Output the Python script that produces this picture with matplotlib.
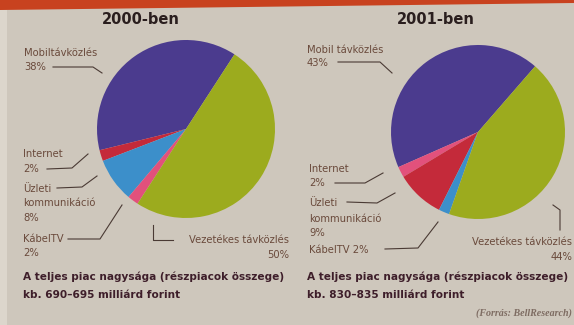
import matplotlib.pyplot as plt
from matplotlib.patches import Polygon, Rectangle

W, H = 574, 325

labels = ['Mobiltávközlés', 'Internet', 'Üzleti kommunikáció', 'KábelTV', 'Vezetékes távközlés']
share_2000 = [38, 2, 8, 2, 50]
share_2001 = [43, 2, 9, 2, 44]
colors_2000 = ['#4b3b8e', '#c42a3a', '#3c8fca', '#e2517c', '#9cab1e']
colors_2001 = ['#4b3b8e', '#e2517c', '#c42a3a', '#3c8fca', '#9cab1e']
titles = ['2000-ben', '2001-ben']
totals = ['kb. 690–695 milliárd forint', 'kb. 830–835 milliárd forint']

bg = '#cec7bc'
txt = '#6a4a3c'
dark = '#3e1e2a'
fam = ['Liberation Sans Narrow', 'DejaVu Sans']

fig = plt.figure(figsize=(W / 100, H / 100), dpi=100)
fig.patch.set_facecolor(bg)


def fx(x):
    return x / W


def fy(y):
    return 1 - y / H


def text(x, y, s, **kw):
    kw.setdefault('color', txt)
    kw.setdefault('fontsize', 7.2)
    kw.setdefault('family', fam)
    fig.text(fx(x), fy(y), s, va='center', **kw)


def line(pts, color='#4a3a34'):
    fig.add_artist(plt.Line2D([fx(p[0]) for p in pts], [fy(p[1]) for p in pts],
                              color=color, lw=0.8, transform=fig.transFigure))


# top red band and light left strip
fig.add_artist(Polygon([[0, 1], [1, 1], [1, fy(3)], [0, fy(10)]], closed=True,
                       transform=fig.transFigure, color='#c8421f', lw=0))
fig.add_artist(Rectangle((0, 0), fx(7), fy(10), transform=fig.transFigure,
                         color='#dcd6cc', lw=0))


def pie(cx, cy, r, values, colors, start):
    ax = fig.add_axes([fx(cx - r), fy(cy + r), 2 * r / W, 2 * r / H])
    ax.pie(values, colors=colors, startangle=start, counterclock=True,
           wedgeprops={'linewidth': 0})
    ax.set_xlim(-1, 1)
    ax.set_ylim(-1, 1)
    ax.axis('off')


pie(186, 129, 89, share_2000, colors_2000, 57)
pie(478, 132, 87, share_2001, colors_2001, 49)

# titles
text(141, 20, titles[0], color='#2a1e1e', fontsize=10.5, fontweight='bold', ha='center')
text(436, 20, titles[1], color='#2a1e1e', fontsize=10.5, fontweight='bold', ha='center')

# 2000 labels
text(24, 53, 'Mobiltávközlés')
text(24, 67, f'{share_2000[0]}%')
line([(53, 67), (93, 67), (102, 73)])
text(23, 154, 'Internet')
text(23, 169, f'{share_2000[1]}%')
line([(47, 169), (72, 168), (88, 154)])
text(23, 189, 'Üzleti')
text(23, 203, 'kommunikáció')
text(23, 218, f'{share_2000[2]}%')
line([(57, 188), (82, 187), (97, 176)])
text(23, 239, labels[3])
text(23, 253, f'{share_2000[3]}%')
line([(68, 239), (100, 239), (122, 205)])
text(289, 240, labels[4], ha='right')
text(289, 255, f'{share_2000[4]}%', ha='right')
line([(153, 225), (153, 240), (173, 240)])

# 2001 labels
text(307, 50, 'Mobil távközlés')
text(307, 63, f'{share_2001[0]}%')
line([(338, 62), (380, 62), (392, 73)])
text(309, 169, 'Internet')
text(309, 183, f'{share_2001[1]}%')
line([(335, 183), (365, 183), (383, 173)])
text(309, 203, 'Üzleti')
text(309, 219, 'kommunikáció')
text(309, 233, f'{share_2001[2]}%')
line([(347, 202), (377, 203), (395, 193)])
text(309, 250, f'{labels[3]} {share_2001[3]}%')
line([(385, 249), (418, 248), (438, 222)])
text(572, 242, labels[4], ha='right')
text(572, 257, f'{share_2001[4]}%', ha='right')
line([(553, 205), (560, 210), (560, 230)])

# footers
for x0, tot in [(23, totals[0]), (307, totals[1])]:
    text(x0, 277, 'A teljes piac nagysága (részpiacok összege)', color=dark,
         fontsize=7.55, fontweight='bold')
    text(x0, 295, tot, color=dark, fontsize=7.55, fontweight='bold')

fig.text(fx(572), fy(313), '(Forrás: BellResearch)', ha='right', va='center',
         family='Liberation Serif', style='italic', fontweight='bold', fontsize=7.2,
         color='#7e6c62')

plt.savefig('out.png', dpi=100, facecolor=bg)
